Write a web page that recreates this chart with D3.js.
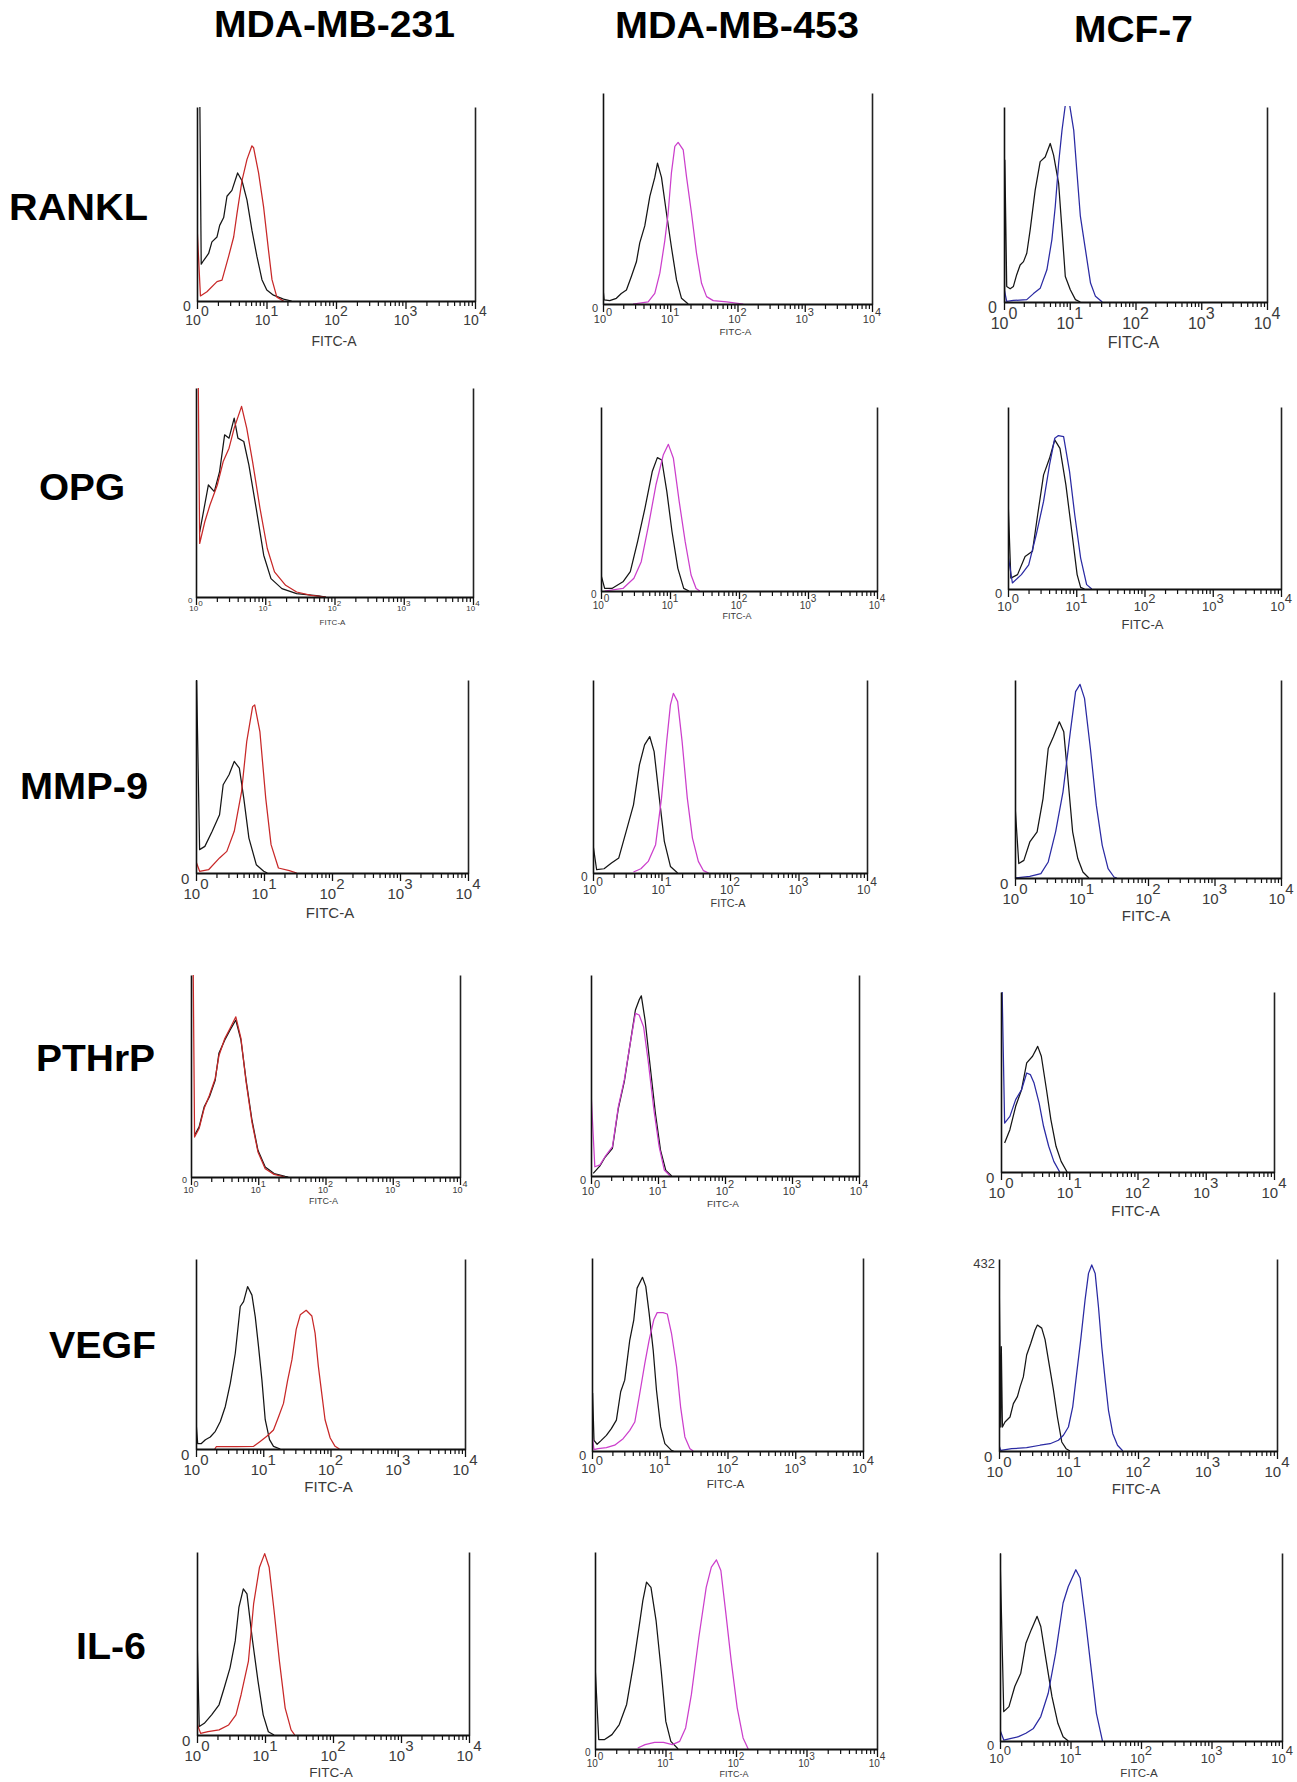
<!DOCTYPE html>
<html>
<head>
<meta charset="utf-8">
<script src="https://cdn.jsdelivr.net/npm/d3@7"></script>
<style>
  body { margin: 0; background: #fff; }
  svg { display: block; }
</style>
</head>
<body>
<svg id="fig" width="1297" height="1782"></svg>
<script>
// column / row names and axis ticks
const cellLines = ["MDA-MB-231", "MDA-MB-453", "MCF-7"];
const markers = ["RANKL", "OPG", "MMP-9", "PTHrP", "VEGF", "IL-6"];
const decades = [1, 10, 100, 1000, 10000];
const exponents = ["0", "1", "2", "3", "4"];

// histograms: [FITC-A, % of plot height]
// iso = control (black), ab = antibody stained (coloured)
const rankl231Iso = [[1.1,100],[1.15,19],[1.25,21],[1.47,24.5],[1.64,30.5],[1.94,33],[2.12,39],[2.42,43],[2.7,54],[3.18,57],[3.84,66],[4.44,62],[5.24,52],[6.17,36.5],[7.28,23],[8.6,11],[10.1,5.7],[12.6,3],[17.6,1],[23,0]];
const rankl231Ab = [[1.0,39],[1.12,2.6],[1.39,4.8],[1.94,10],[2.29,10.8],[2.85,23],[3.37,33],[3.76,45],[4.44,62],[5.24,73],[6.17,80],[6.52,79],[7.69,66],[9.08,48.5],[10.7,26],[12.0,11],[14.1,2],[17.6,0]];
const rankl453Iso = [[1.0,7.4],[1.04,2],[1.26,1.6],[1.58,2.7],[1.87,5],[2.23,6.6],[2.64,13],[3.14,20],[3.52,29],[4.18,37],[4.97,51],[5.89,60],[6.46,66.8],[7.41,60],[8.79,43],[10.4,27],[12.4,11.4],[14.7,2.7],[18.5,0]];
const rankl453Ab = [[2.8,0],[4.69,1],[5.89,5],[7.0,14.6],[8.3,30],[9.3,43],[10.4,62],[11.7,74.7],[13.1,76.6],[15.6,73],[17.5,60],[20.7,43],[24.6,24],[29.2,9.8],[34.7,3.5],[43.6,1.6],[69,1],[122,0]];
const ranklMcf7Iso = [[1.02,0],[1.03,72.7],[1.10,8],[1.24,6.8],[1.39,8],[1.56,14],[1.76,19],[1.98,20.7],[2.22,25],[2.5,37],[2.98,57.4],[3.55,72],[4.23,74.4],[5.05,81.3],[5.68,75.3],[6.77,61],[7.62,37],[8.56,13.1],[10.2,6.3],[12.2,1.2],[14.5,0]];
const ranklMcf7Ab = [[1.0,7],[1.10,0.3],[1.39,0.8],[2.22,1.2],[2.81,4.3],[3.55,7],[4.49,16.5],[5.35,32],[6.02,49],[6.77,71],[7.62,88],[8.56,101],[9.97,101],[11.5,88],[12.9,66],[14.5,44],[17.3,27],[20.7,9.7],[24.6,2.9],[31.2,0]];

const opg231Iso = [[1.13,31],[1.51,53.6],[1.84,50.4],[2.19,60],[2.59,77.6],[3.0,76],[3.56,85.6],[4.03,76],[4.9,74.4],[5.8,63.2],[7.4,42.4],[9.5,20],[12.1,8.8],[17.4,4],[28.4,1.6],[59,0.5],[75,0]];
const opg231Ab = [[1.08,100],[1.13,25.6],[1.34,36],[1.59,44],[2.03,53.6],[2.47,64.8],[3.0,71.2],[3.56,80.8],[4.55,91.2],[5.4,80.8],[6.56,64.8],[8.4,42.4],[10.7,23.2],[13.6,12],[19.7,5.6],[28.4,2.4],[46,0.8],[75,0]];
const opg453Iso = [[1.0,8.7],[1.13,1.4],[1.44,1.4],[2.08,5],[2.66,10.5],[3.39,26.8],[4.33,44.9],[5.53,64.9],[6.56,72.5],[7.6,71.2],[9.0,54],[10.7,32.2],[13.0,12.3],[15.8,1.4],[18.8,0]];
const opg453Ab = [[1.13,0],[2.08,1.4],[3.0,6.9],[3.83,15.9],[4.9,35.9],[6.25,57.6],[7.98,73.9],[9.47,79.7],[11.2,72.1],[13.6,48.6],[16.6,26.8],[20.2,8.7],[23.9,1.4],[27,0]];
const opgMcf7Iso = [[1.0,50],[1.10,6],[1.38,7.9],[1.78,17.9],[2.28,20.7],[2.72,40.8],[3.32,62.7],[4.06,71.8],[4.84,81.9],[5.77,77.3],[7.05,57.2],[8.6,31.6],[10.3,7.9],[11.6,0.9],[13.2,0]];
const opgMcf7Ab = [[1.0,18.8],[1.16,3.3],[1.57,7.9],[2.01,13.3],[2.59,29.8],[3.32,48.1],[4.06,68.2],[4.84,82.8],[5.48,84.3],[6.53,83.7],[7.98,64.5],[9.5,40.8],[11.6,17],[14.2,2.4],[16.9,0]];

const mmp231Iso = [[1.02,100],[1.13,12.1],[1.35,13.8],[1.73,21.6],[2.22,30.2],[2.51,45.7],[3.06,50.9],[3.65,57.8],[4.34,54.3],[5.04,38.8],[6.0,18.1],[7.7,4.3],[9.9,0.9],[11.2,0]];
const mmp231Ab = [[1.0,6],[1.13,0.9],[1.53,1.7],[2.22,7.8],[2.84,11.2],[3.65,21.6],[4.68,42.2],[5.57,68.1],[6.8,86.2],[7.3,87.1],[8.7,73.3],[10.6,38.8],[12.7,14.7],[16.3,2.6],[23.6,1.2],[30.3,0]];
const mmp453Iso = [[1.0,14.7],[1.13,1.7],[1.45,2.2],[1.86,5.2],[2.38,7.8],[3.05,21.6],[3.9,35.3],[4.76,56],[5.66,66.4],[6.73,70.7],[7.8,62.9],[9.3,38.8],[11.0,16.4],[13.5,3.4],[17.2,0]];
const mmp453Ab = [[3.9,0.5],[5.0,2.2],[6.4,6],[8.2,14.7],[10,38.8],[11.9,68.1],[13.5,87.1],[14.9,93.1],[17.2,88.8],[20,68.1],[23.8,38.8],[28.3,18.1],[34.5,6],[41,1.2],[48.8,0]];
const mmpMcf7Iso = [[1.0,36.8],[1.14,7.3],[1.36,8.9],[1.67,18.2],[2.15,23.3],[2.64,40.1],[3.16,65.4],[3.78,71.3],[4.64,78.9],[5.41,73.9],[6.31,48.6],[7.36,23.3],[8.8,9.8],[10.5,3],[12.9,0]];
const mmpMcf7Ab = [[1.0,0],[1.67,0.8],[2.45,2.2],[3.16,8.1],[4.08,23.3],[5.27,43.5],[6.8,73.9],[8.15,94.1],[9.5,97.8],[11.1,90.7],[13.6,65.4],[16.7,36.8],[20.5,16.5],[25.1,4.7],[30.8,0.5],[34,0]];

const pthrp231Iso = [[1.13,20.7],[1.32,24.8],[1.57,34.7],[1.88,39.7],[2.29,47.9],[2.6,61.2],[3.18,67.8],[3.8,72.7],[4.64,77.7],[5.53,67.8],[6.6,47.9],[8.07,28.1],[9.9,13.2],[12.7,5],[17.2,1.7],[25.1,0.3],[28,0]];
const pthrp231Ab = [[1.08,100],[1.13,19.8],[1.32,24],[1.57,34],[1.88,40.5],[2.29,48.8],[2.6,60],[3.18,68.6],[3.8,73.5],[4.64,79.3],[5.53,68.6],[6.6,47],[8.07,27],[9.9,12.4],[12.7,4.1],[17.2,1.3],[25.1,0]];
const pthrp453Iso = [[1.08,1.3],[1.36,5],[1.62,9.3],[2.09,13.8],[2.56,33.7],[3.14,46.9],[3.85,66],[4.6,82.6],[5.23,87.6],[5.64,89.6],[6.41,77.6],[7.46,57.7],[9.15,31.2],[10.9,12.9],[13.1,2.7],[16,0]];
const pthrp453Ab = [[1.0,42],[1.14,4.6],[1.36,5.5],[1.62,9.6],[2.09,14.6],[2.56,34.5],[3.14,47.8],[3.85,66],[4.6,80.9],[5.23,80.1],[6.09,74.3],[7.1,57.7],[8.7,32.8],[10.4,14.6],[12.4,3],[15.2,0]];
const pthrpMcf7Iso = [[1.13,16.1],[1.35,23.5],[1.64,36.5],[2.0,45.7],[2.38,60.6],[2.9,64.3],[3.45,69.8],[3.9,64.3],[4.64,45.7],[5.38,29.1],[6.4,14.3],[7.6,5.9],[9.3,0]];
const pthrpMcf7Ab = [[1.04,100],[1.13,27.2],[1.35,30.9],[1.64,40.2],[2.0,45.7],[2.38,55],[2.69,54.1],[3.05,49.4],[3.62,38.3],[4.2,25.4],[5.0,14.3],[5.94,5.9],[7.25,0]];

const vegf231Iso = [[1.0,14.5],[1.06,2.8],[1.19,2.8],[1.38,4.9],[1.63,6.3],[1.94,9.3],[2.3,14.5],[2.73,22.4],[3.24,34.7],[3.84,50.4],[4.55,75],[5.1,77.6],[5.85,85.5],[6.79,81],[7.6,69.7],[8.5,54],[9.55,36.4],[10.7,15.4],[12.4,4.9],[14.2,1.4],[17.9,0]];
const vegf231Ab = [[1.9,0],[2.0,1.2],[4.0,1.2],[7.2,1.4],[9.0,4],[11.3,6.7],[14.2,10],[16.9,17],[20,24],[23,36],[26.7,47],[30.9,63],[35.5,70.6],[43.5,73],[52.8,70],[59,61],[66,43.5],[74,29.4],[83,15.4],[99,5.8],[117,1.4],[136,0]];
const vegf453Iso = [[1.02,30],[1.07,5.5],[1.19,3.5],[1.37,5.5],[1.63,8.1],[1.93,11.6],[2.29,16],[2.65,30.7],[3.04,36.7],[3.61,57.5],[4.14,68],[4.63,84.4],[5.56,90],[6.22,85.3],[6.97,71.4],[8.0,52.3],[8.95,31.5],[10.3,12.5],[11.9,3.8],[14.9,0.3],[16,0]];
const vegf453Ab = [[1.02,6.4],[1.07,0.7],[1.23,1.2],[1.63,1.7],[2.16,3],[2.88,6.4],[3.61,10.7],[4.28,15],[5.07,29.8],[6.02,45.4],[6.97,57.5],[8.17,68],[9.16,71.7],[11.2,71.7],[12.9,71],[14.9,61],[17.7,43.7],[20.3,22.9],[23.5,7.3],[27.9,1.2],[31.2,0]];
const vegfMcf7Iso = [[1.01,83.8],[1.06,12.5],[1.08,54.3],[1.12,12.5],[1.22,15.1],[1.44,17.7],[1.61,24.7],[1.84,28.3],[2.01,33.4],[2.24,38.6],[2.5,50],[2.86,56],[3.3,63],[3.57,65.6],[4.12,64],[4.6,58],[5.14,47.5],[6.06,32],[6.92,17.7],[8.0,4.7],[9.23,1.2],[10.5,0]];
const vegfMcf7Ab = [[1.0,3],[1.06,0.3],[1.52,1.2],[2.5,1.7],[3.9,3],[5.43,3.8],[7.16,5.6],[8.45,8.2],[9.97,12.5],[11.5,23],[13.1,40.3],[15.0,58],[17.3,78.6],[19.4,92.5],[21.6,96.9],[24.2,92.5],[27,75],[30.1,54.3],[33.7,36.9],[37.6,21.2],[43.4,9],[50.7,3],[60.5,0]];

const il6231Iso = [[1.0,55],[1.08,4.6],[1.28,6.4],[1.64,11],[2.11,16.5],[2.51,25.7],[3.06,36.7],[3.65,51.4],[4.13,69.7],[4.8,79.8],[5.43,77.1],[6.47,53.2],[7.89,29.4],[9.4,11],[11.2,1.8],[13.6,0]];
const il6231Ab = [[1.0,6.4],[1.13,0.9],[1.45,1.8],[2.11,2.8],[2.92,5.5],[3.74,11],[4.45,22],[5.71,40.4],[6.8,71.6],[8.3,91.7],[9.9,99.1],[11.5,91.7],[13.6,67.9],[16.3,40.4],[19.8,14.7],[24.2,2.8],[27.4,0]];
const il6453Iso = [[1.0,43],[1.13,4.8],[1.37,4.8],[1.74,7.3],[2.21,12.4],[2.81,22.6],[3.58,44.7],[4.34,65],[4.77,75.3],[5.38,84.7],[6.22,82],[7.36,65],[8.7,39.6],[10.1,14],[11.9,3.9],[15.1,0]];
const il6453Ab = [[4.04,0.5],[5.13,2.2],[7.0,3.4],[9.36,3.4],[12.5,2.2],[15.9,3.9],[19.3,10.7],[23.3,27.7],[29.7,56.6],[37.8,82],[44.7,92.3],[52.8,96],[61,90.6],[72,68.5],[85.5,44.7],[104,20.9],[126,5.6],[149,0]];
const il6Mcf7Iso = [[1.0,100],[1.13,15.6],[1.34,18.3],[1.62,29],[1.97,36.1],[2.33,52],[2.77,59.1],[3.36,66.3],[3.79,60.9],[4.5,43.2],[5.46,23.6],[6.62,9.4],[7.85,2.3],[9.3,0]];
const il6Mcf7Ab = [[1.0,5.9],[1.13,0.5],[1.44,1.4],[1.83,2.3],[2.33,4.1],[2.98,6.7],[3.79,13],[4.83,25.4],[6.16,46.7],[7.85,73.4],[9.3,82.2],[11.9,91.1],[13.7,86.7],[16.3,64.5],[19.2,41.4],[23.3,14.7],[28.4,0]];

// table of the series per row / column, built from the arrays above
const histograms = [
  [[rankl231Iso, rankl231Ab], [rankl453Iso, rankl453Ab], [ranklMcf7Iso, ranklMcf7Ab]],
  [[opg231Iso, opg231Ab], [opg453Iso, opg453Ab], [opgMcf7Iso, opgMcf7Ab]],
  [[mmp231Iso, mmp231Ab], [mmp453Iso, mmp453Ab], [mmpMcf7Iso, mmpMcf7Ab]],
  [[pthrp231Iso, pthrp231Ab], [pthrp453Iso, pthrp453Ab], [pthrpMcf7Iso, pthrpMcf7Ab]],
  [[vegf231Iso, vegf231Ab], [vegf453Iso, vegf453Ab], [vegfMcf7Iso, vegfMcf7Ab]],
  [[il6231Iso, il6231Ab], [il6453Iso, il6453Ab], [il6Mcf7Iso, il6Mcf7Ab]]
];

// layout: each panel was pasted in on its own, so boxes differ a little
// [left, right, top, bottom]
const panelBoxes = [
  [[197, 475, 107, 301], [603, 872, 93, 304], [1004, 1267, 107, 302]],
  [[196, 473, 388, 597], [601, 877, 407, 591], [1008, 1281, 407, 589]],
  [[196, 468, 680, 873], [593, 867, 680, 873], [1015, 1281, 680, 878]],
  [[191, 460, 975, 1177], [591, 859, 975, 1176], [1001, 1274, 992, 1172]],
  [[196, 465, 1259, 1449], [592, 863, 1258, 1451], [999, 1277, 1259, 1451]],
  [[197, 469, 1552, 1735], [595, 877, 1552, 1749], [1000, 1282, 1553, 1741]]
];
const labelSizes = [[14, 11, 16], [8, 10, 13], [15, 12, 15], [9, 11, 15], [15, 13, 15], [15, 10, 13]];
const fitcOffsets = [[45, 30, 42], [28, 28, 40], [45, 29, 40], [26, 27, 44], [39, 27, 37], [40, 25, 36]];
const stainColors = ["#c82828", "#cc3fcc", "#2a2aa3"];
const titlePos = [[214, 37, 241], [615, 38, 244], [1074, 42, 119]];
const rowLabelPos = [[9, 220, 139], [39, 500, 86], [20, 799, 128], [36, 1071, 119], [49, 1358, 107], [76, 1659, 70]];

const font = "'Liberation Sans', Arial, Helvetica, sans-serif";
const svg = d3.select("#fig").style("font-family", font);
const pageBottom = 1782;

// column titles
cellLines.forEach((name, i) => {
  svg.append("text")
    .attr("x", titlePos[i][0]).attr("y", titlePos[i][1])
    .attr("font-size", 36).attr("font-weight", "bold")
    .attr("textLength", titlePos[i][2]).attr("lengthAdjust", "spacingAndGlyphs")
    .text(name);
});

// row labels
markers.forEach((name, i) => {
  svg.append("text")
    .attr("x", rowLabelPos[i][0]).attr("y", rowLabelPos[i][1])
    .attr("font-size", 37).attr("font-weight", "bold")
    .attr("textLength", rowLabelPos[i][2]).attr("lengthAdjust", "spacingAndGlyphs")
    .text(name);
});

// one histogram panel
function drawPanel(r, c) {
  const [L, R, T, B] = panelBoxes[r][c];
  const fs = labelSizes[r][c];
  const x = d3.scaleLog().domain([1, 10000]).range([L, R]);
  const y = d3.scaleLinear().domain([0, 100]).range([B, T]);
  const g = svg.append("g");

  const clipId = "clip" + r + "_" + c;
  g.append("clipPath").attr("id", clipId)
    .append("rect").attr("x", L).attr("y", T - 1).attr("width", R - L).attr("height", B - T + 1);

  const line = d3.line().x(d => x(d[0])).y(d => y(d[1]));
  const [iso, ab] = histograms[r][c];
  const curves = g.append("g").attr("clip-path", "url(#" + clipId + ")")
    .attr("fill", "none").attr("stroke-width", 1.25).attr("stroke-linejoin", "round");
  curves.append("path").attr("d", line(iso)).attr("stroke", "#151515");
  curves.append("path").attr("d", line(ab)).attr("stroke", stainColors[c]);

  // frame sides
  const yAxisL = g.append("g").attr("transform", "translate(" + L + ",0)")
    .call(d3.axisLeft(y).tickValues([]).tickSizeOuter(0));
  yAxisL.select(".domain").attr("stroke", "#111").attr("stroke-width", 1.6);
  const yAxisR = g.append("g").attr("transform", "translate(" + R + ",0)")
    .call(d3.axisRight(y).tickValues([]).tickSizeOuter(0));
  yAxisR.select(".domain").attr("stroke", "#222").attr("stroke-width", 1.6);

  // log axis: minor ticks then decades
  const minor = x.ticks().filter(v => !decades.includes(v));
  const minorAxis = g.append("g").attr("transform", "translate(0," + B + ")")
    .call(d3.axisBottom(x).tickValues(minor).tickSize(5).tickSizeOuter(0).tickFormat(""));
  minorAxis.selectAll(".tick line").attr("stroke", "#111").attr("stroke-width", 1.2);
  minorAxis.select(".domain").attr("stroke", "#111").attr("stroke-width", 1.8);
  const majorAxis = g.append("g").attr("transform", "translate(0," + B + ")")
    .call(d3.axisBottom(x).tickValues(decades).tickSize(8).tickSizeOuter(0).tickFormat(""));
  majorAxis.selectAll(".tick line").attr("stroke", "#111").attr("stroke-width", 1.3);
  majorAxis.select(".domain").remove();

  const labels = g.append("g").attr("fill", "#3a3a3a").attr("font-size", fs);
  const tickBase = B + 1.65 * fs + 1;
  decades.forEach((v, i) => {
    labels.append("text")
      .attr("x", x(v) + 0.28 * fs).attr("y", tickBase)
      .attr("text-anchor", "end").text("10");
    labels.append("text")
      .attr("x", x(v) + 0.28 * fs).attr("y", B + fs + 1)
      .text(exponents[i]);
  });
  labels.append("text")
    .attr("x", L - 0.45 * fs).attr("y", y(0) + 0.7 * fs)
    .attr("text-anchor", "end").text("0");

  // axis name sits right under the 10^2 label; keep it clear of it
  // and inside the page (bottom row)
  let nameSize = c === 1 ? fs * 0.9 : fs;
  let nameBase = Math.max(B + fitcOffsets[r][c], tickBase + 0.22 * fs + 0.92 * nameSize + 0.5);
  if (nameBase + 0.22 * nameSize > pageBottom - 1) {
    nameSize = (pageBottom - 2 - tickBase - 0.22 * fs - 0.5) / 1.14;
    nameBase = tickBase + 0.22 * fs + 0.92 * nameSize + 0.5;
  }
  labels.append("text")
    .attr("x", (L + R) / 2 - 2).attr("y", nameBase)
    .attr("font-size", nameSize)
    .attr("text-anchor", "middle").text("FITC-A");
  return { g, x, y, L, T, fs };
}

const panels = [];
markers.forEach((m, r) => cellLines.forEach((n, c) => panels.push(drawPanel(r, c))));

// the one top-of-scale count still readable (VEGF, MCF-7)
const vegfMcf7 = panels[4 * 3 + 2];
vegfMcf7.g.append("text")
  .attr("x", vegfMcf7.L - 4).attr("y", vegfMcf7.T + 9)
  .attr("text-anchor", "end").attr("font-size", 13).attr("fill", "#3a3a3a")
  .text("432");
</script>
</body>
</html>
